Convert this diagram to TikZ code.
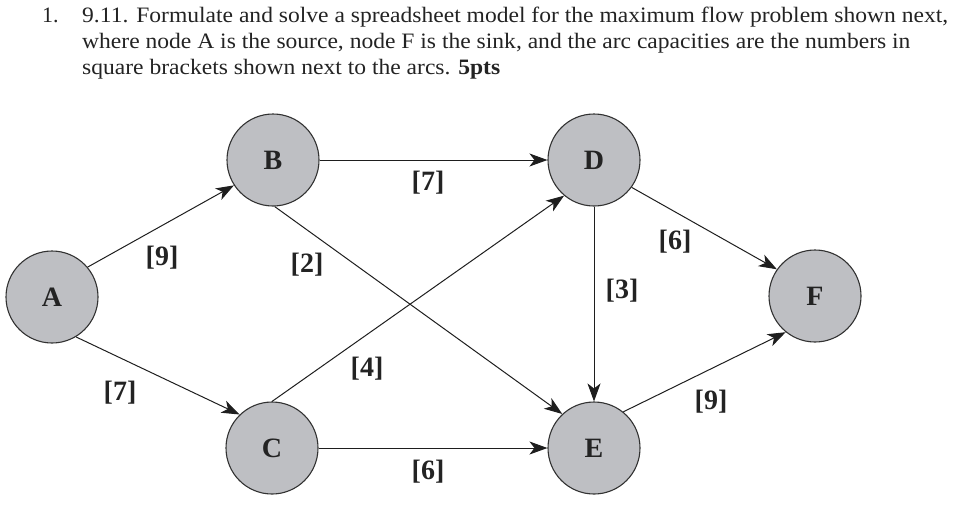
\documentclass[tikz,border=0pt]{standalone}
\usepackage{fontspec}
\setmainfont{Liberation Serif}
\usetikzlibrary{arrows.meta}
\newlength\hdrlen
\definecolor{nodegray}{RGB}{190,191,195}
\definecolor{rimgray}{RGB}{50,50,50}
\definecolor{txtgray}{RGB}{35,35,35}
\definecolor{edgegray}{RGB}{30,30,30}
\begin{document}
\settowidth\hdrlen{\fontsize{22}{26}\selectfont 9.11. Formulate and solve a spreadsheet model for the maximum flow problem shown next,}%
\pgfmathsetmacro\hsx{866/\hdrlen}%
\begin{tikzpicture}[x=1pt,y=-1pt,
  netnode/.style={circle, draw=rimgray, line width=1.1pt, fill=nodegray, minimum size=92pt, inner sep=0pt, font=\fontsize{28}{30}\selectfont\bfseries, text=txtgray},
  capnum/.style={font=\fontsize{28}{30}\selectfont\bfseries, inner sep=0pt, text=txtgray},
  arc/.style={draw=edgegray, line width=1pt, -{Stealth[length=18pt,width=13pt,inset=5pt]}},
  hdr/.style={anchor=base west, inner sep=0pt, font=\fontsize{22}{26}\selectfont, text=txtgray}]
\useasboundingbox (0,0) rectangle (976,515);
% header
\node[hdr] (num) at (42,22) {1.};
\node[hdr] (l1) at (82,22) {\scalebox{\hsx}[1]{9.11. Formulate and solve a spreadsheet model for the maximum flow problem shown next,}};
\node[hdr] (l2) at (82,48) {\scalebox{\hsx}[1]{where node A is the source, node F is the sink, and the arc capacities are the numbers in}};
\node[hdr] (l3) at (82,74) {\scalebox{\hsx}[1]{square brackets shown next to the arcs. \textbf{5pts}}};
% nodes
\node[netnode] (A) at (52,297) {A};
\node[netnode] (B) at (273,160) {B};
\node[netnode] (C) at (272,448) {C};
\node[netnode] (D) at (594,160) {D};
\node[netnode] (E) at (594,448) {E};
\node[netnode] (F) at (815,296) {F};
% arcs
\draw[arc] (A.40) -- (B.213);
\draw[arc] (A.-59) -- (C.134);
\draw[arc] (B.0) -- (D.180);
\draw[arc] (B.-88) -- (E.133);
\draw[arc] (C.90) -- (D.230);
\draw[arc] (C.0) -- (E.180);
\draw[arc] (D.-90) -- (E.90);
\draw[arc] (D.-36) -- (F.145);
\draw[arc] (E.51) -- (F.231);
% capacities
\node[capnum] (cAB) at (162,258) {[9]};
\node[capnum] (cAC) at (120,393) {[7]};
\node[capnum] (cBD) at (428,183) {[7]};
\node[capnum] (cBE) at (307,265) {[2]};
\node[capnum] (cCD) at (367,369) {[4]};
\node[capnum] (cCE) at (428,472) {[6]};
\node[capnum] (cDE) at (622,291) {[3]};
\node[capnum] (cDF) at (675,242) {[6]};
\node[capnum] (cEF) at (711,402) {[9]};
\end{tikzpicture}
\end{document}
